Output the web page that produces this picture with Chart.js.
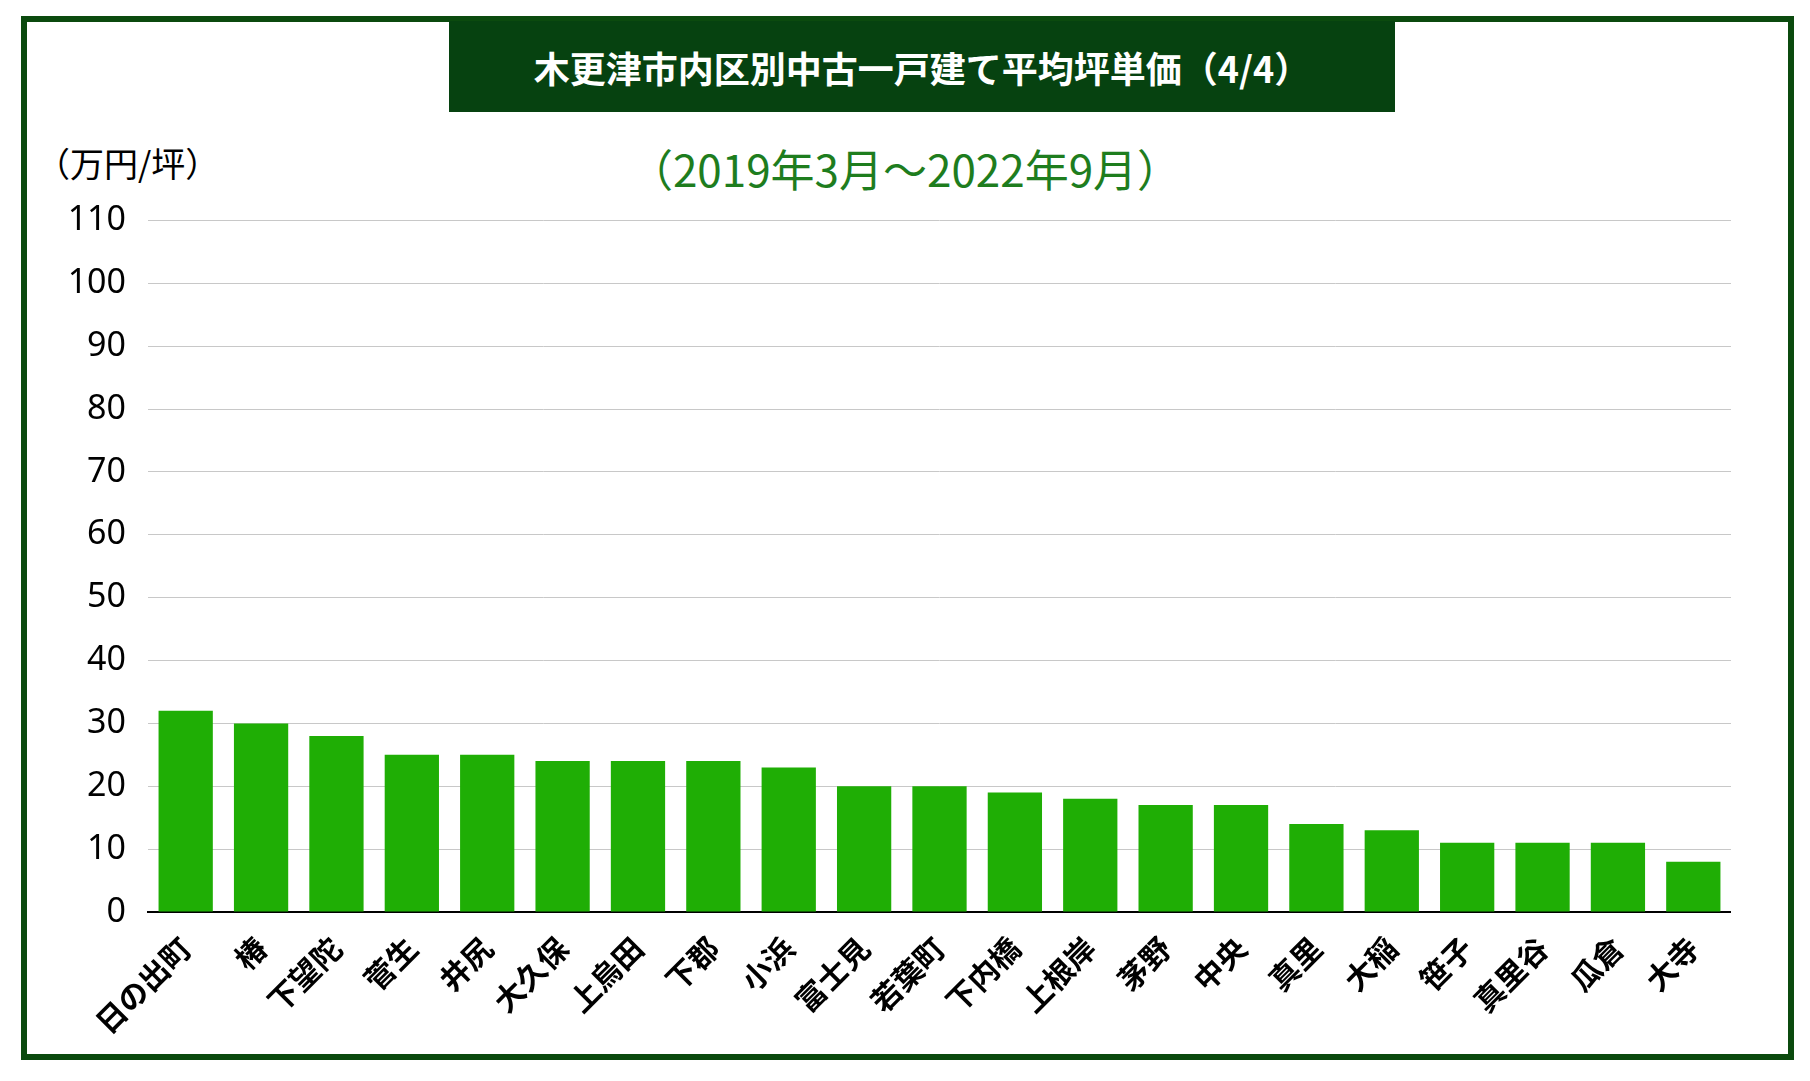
<!DOCTYPE html>
<html>
<head>
<meta charset="utf-8">
<script src="https://cdn.jsdelivr.net/npm/chart.js@4"></script>
<style>
  body { margin:0; background:#fff; width:1810px; height:1081px; position:relative; font-family:"Noto Sans","Noto Sans CJK JP",sans-serif; }
  .frame { position:absolute; left:21px; top:16px; width:1761px; height:1032px; border:6px solid #0b4a0e; }
  .title { position:absolute; left:449px; top:21px; width:946px; height:91px; background:#064210; color:#fff;
           font:bold 36px "Noto Sans CJK JP",sans-serif; display:flex; align-items:center; justify-content:center; }
  .subtitle { position:absolute; left:0; width:1810px; top:136px; text-align:center; color:#1e7d1e; font:44px "Noto Sans CJK JP",sans-serif; }
  .unit { position:absolute; left:36px; top:138px; font:34px "Noto Sans CJK JP",sans-serif; color:#000; }
  .chart-wrap { position:absolute; left:40px; top:178px; width:1691px; height:862px; }
</style>
</head>
<body>
<div class="frame"></div>
<div class="title">木更津市内区別中古一戸建て平均坪単価（4/4）</div>
<div class="subtitle">（2019年3月～2022年9月）</div>
<div class="unit">（万円/坪）</div>
<div class="chart-wrap"><canvas id="priceChart"></canvas></div>
<script>
// 区名と平均坪単価（万円/坪）
const areas = ['日の出町','椿','下望陀','菅生','井尻','大久保','上烏田','下郡','小浜','富士見','若葉町','下内橋','上根岸','茅野','中央','真里','大稲','笹子','真里谷','瓜倉','大寺'];
const prices = [32, 30, 28, 25, 25, 24, 24, 24, 23, 20, 20, 19, 18, 17, 17, 14, 13, 11, 11, 11, 8];
const yMax = 110;
const yStep = 10;

new Chart(document.getElementById('priceChart'), {
  type: 'bar',
  data: {
    labels: areas,
    datasets: [{
      data: prices,
      backgroundColor: '#1fae05',
      categoryPercentage: 1.0,
      barPercentage: 0.72
    }]
  },
  options: {
    responsive: true, maintainAspectRatio: false, animation: false,
    layout: { padding: { top: 22, right: 0 } },
    plugins: { legend: { display: false }, tooltip: { enabled: false } },
    scales: {
      y: {
        min: 0, max: yMax,
        ticks: { stepSize: yStep, color: '#000', font: { size: 34, family: 'Noto Sans' }, padding: 22 },
        grid: { color: '#c8c8c8', drawTicks: false },
        border: { display: false },
        afterFit: s => { s.width = 108; }
      },
      x: {
        ticks: { color: '#000', minRotation: 45, maxRotation: 45, autoSkip: false, padding: 10,
                 font: { size: 30, weight: 'bold', family: 'Noto Sans CJK JP' } },
        grid: { display: false },
        border: { color: '#000', width: 2 },
        afterFit: s => { s.height = 128; }
      }
    }
  }
});
</script>
</body>
</html>
